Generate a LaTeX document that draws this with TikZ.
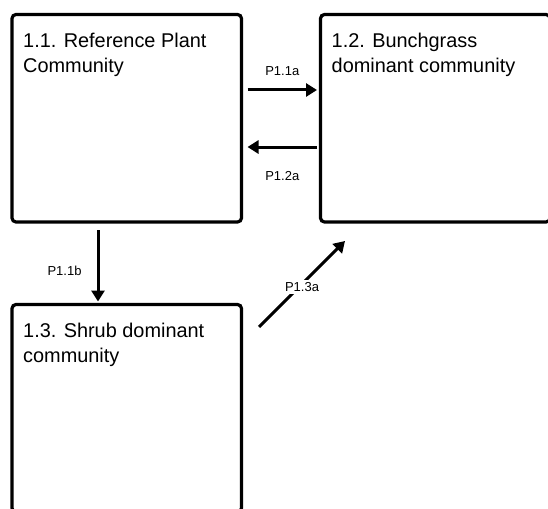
\documentclass[tikz,border=0pt]{standalone}
\usepackage{fontspec}
\setmainfont{Liberation Sans}
\usepackage{tikz}
\usetikzlibrary{arrows.meta, positioning}

\begin{document}
\begin{tikzpicture}[x=1pt, y=-1pt,
  statebox/.style={draw, line width=3.2pt, rounded corners=4pt, outer sep=0pt,
    minimum width=229.5pt, minimum height=207.5pt, anchor=north west},
  boxtitle/.style={anchor=north west, inner sep=0pt, align=left,
    font=\fontsize{19.9}{25}\selectfont},
  flow/.style={-{Triangle[length=11pt, width=13pt]}, line width=3pt},
  plabel/.style={inner sep=0pt, font=\fontsize{13}{15}\selectfont}]
\useasboundingbox (0,0) rectangle (548,508);
\clip (0,0) rectangle (548,508);
% State boxes (right and bottom ones run off the page)
\node[statebox] (rpc) at (12,14.5) {};
\node[statebox] (bdc) at (320.5,14.5) {};
\node[statebox] (sdc) at (12,304.5) {};
% Box titles
\node[boxtitle] (rpct) at ([shift={(11,18)}]rpc.north west) {1.1. Reference Plant\\Community};
\node[boxtitle] (bdct) at ([shift={(11,18)}]bdc.north west) {1.2. Bunchgrass\\dominant community};
\node[boxtitle] (sdct) at ([shift={(11,18)}]sdc.north west) {1.3. Shrub dominant\\community};
% Pathways between states
\draw[flow] ([shift={(6,75.5)}]rpc.north east) -- ([shift={(-3.5,75.5)}]bdc.north west)
  node[plabel, midway, above=13pt] (p11a) {P1.1a};
\draw[flow] ([shift={(-3.5,132.5)}]bdc.north west) -- ([shift={(6,132.5)}]rpc.north east)
  node[plabel, midway, below=22.5pt] (p12a) {P1.2a};
\draw[flow] ([shift={(86,8)}]rpc.south west) -- ([shift={(86,-3)}]sdc.north west)
  node[plabel, pos=0.57, left=15pt] (p11b) {P1.1b};
\draw[flow] ([shift={(17.5,22.5)}]sdc.north east) -- ([shift={(24.5,19)}]bdc.south west)
  node[plabel, midway, fill=white, inner sep=2.5pt, yshift=-3pt] (p13a) {P1.3a};
\end{tikzpicture}
\end{document}
